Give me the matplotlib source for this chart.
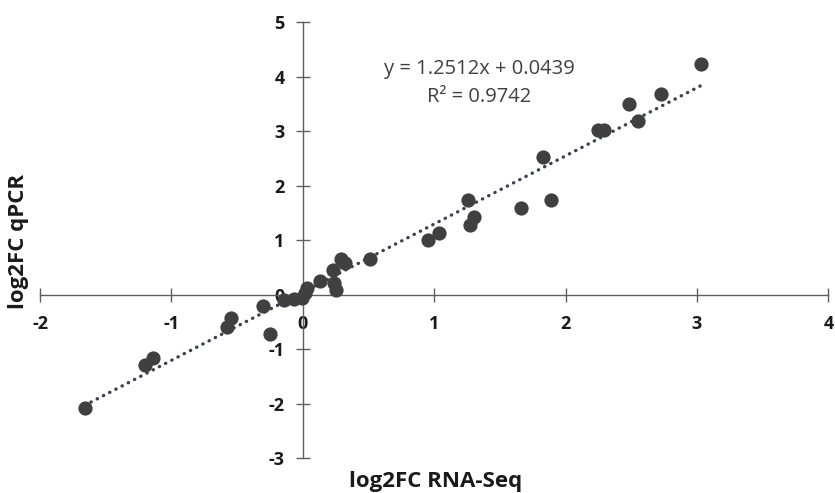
import numpy as np
import matplotlib
matplotlib.use('Agg')
import matplotlib.pyplot as plt

# log2 fold changes
rna_seq = [-1.66, -1.20, -1.14, -0.58, -0.55, -0.30, -0.25, -0.14, -0.07,
           -0.01, 0.02, 0.03, 0.13, 0.23, 0.24, 0.25, 0.29, 0.32, 0.51,
           0.95, 1.04, 1.26, 1.27, 1.30, 1.66, 1.83, 1.89, 2.25, 2.29,
           2.48, 2.55, 2.73, 3.03]
qpcr = [-2.08, -1.29, -1.17, -0.60, -0.43, -0.21, -0.72, -0.10, -0.08,
        -0.06, 0.03, 0.12, 0.25, 0.45, 0.21, 0.08, 0.66, 0.58, 0.65,
        1.01, 1.13, 1.73, 1.27, 1.43, 1.59, 2.52, 1.73, 3.02, 3.03,
        3.49, 3.18, 3.69, 4.23]

slope = 1.2512
intercept = 0.0439
r_squared = 0.9742

x_ticks = [-2, -1, 0, 1, 2, 3, 4]
y_ticks = [-3, -2, -1, 0, 1, 2, 3, 4, 5]

plt.rcParams['font.family'] = ['Open Sans', 'DejaVu Sans']
plt.rcParams['axes.unicode_minus'] = False

fig = plt.figure(figsize=(8.35, 4.93), dpi=100)
ax = fig.add_axes([0.048, 0.071, 0.944, 0.884])

ax.scatter(rna_seq, qpcr, s=105, color='#404040', zorder=3, linewidths=0)

# Excel-style linear trendline spanning the data range
trend_x = np.array([min(rna_seq), max(rna_seq)])
ax.plot(trend_x, slope * trend_x + intercept, color='#39424e',
        linestyle=(0, (0.1, 2.0)), linewidth=2.4, dash_capstyle='round',
        zorder=2)

ax.set_xlim(x_ticks[0], x_ticks[-1])
ax.set_ylim(y_ticks[0], y_ticks[-1])
ax.set_xticks(x_ticks)
ax.set_yticks(y_ticks)

for side in ['top', 'right']:
    ax.spines[side].set_visible(False)
ax.spines['left'].set_position(('data', 0))
ax.spines['bottom'].set_position(('data', 0))
for side in ['left', 'bottom']:
    ax.spines[side].set_color('#5e5e5e')
    ax.spines[side].set_linewidth(1.0)

ax.tick_params(axis='both', direction='inout', length=10, width=1.0,
               color='#5e5e5e', labelsize=13, labelcolor='#1a1a1a')
ax.tick_params(axis='x', pad=10)
ax.tick_params(axis='y', pad=8)
for lbl in ax.get_xticklabels() + ax.get_yticklabels():
    lbl.set_fontweight('bold')

fig.text(0.022, 0.511, 'log2FC qPCR', rotation=90, ha='center', va='center',
         fontsize=16, fontweight='bold', color='#1a1a1a')
fig.text(0.522, 0.012, 'log2FC RNA-Seq', ha='center', va='baseline',
         fontsize=16, fontweight='bold', color='#1a1a1a')

fig.text(0.574, 0.860, f'y = {slope}x + {intercept}', ha='center',
         va='center', fontsize=14.5, color='#404040')
fig.text(0.574, 0.803, f'R² = {r_squared}', ha='center', va='center',
         fontsize=14.5, color='#404040')

fig.savefig('out.png', dpi=100)
